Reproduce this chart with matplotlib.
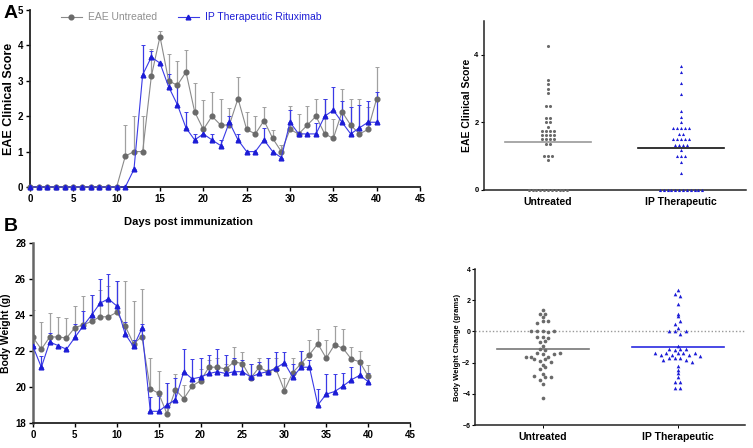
import numpy as np
import matplotlib
matplotlib.use("Agg")
import matplotlib.pyplot as plt
from matplotlib.lines import Line2D

plt.rcParams['font.family'] = ['Liberation Sans', 'DejaVu Sans']

# ---- data ----
days = list(range(0, 41))

# A: clinical score, means and upper error bar ends (nan = no bar)
score_untreated = [0]*11 + [0.875, 1.0, 1.0, 3.125, 4.25, 3.0, 2.875, 3.25, 2.125, 1.625,
                            2.0, 1.75, 1.75, 2.5, 1.625, 1.5, 1.875, 1.375, 1.0, 1.625,
                            1.5, 1.75, 2.0, 1.5, 1.375, 2.125, 1.75, 1.5, 1.625, 2.5]
score_untreated_hi = [np.nan]*11 + [1.75, 2.0, 2.0, 3.9, 4.4, 3.75, 3.57, 3.88, 2.93, 2.45,
                                    2.68, 2.5, 2.23, 3.12, 2.12, 2.0, 2.25, 1.62, 1.2, 2.28,
                                    2.05, 2.28, 2.5, 2.5, 1.93, 2.78, 2.5, 2.5, 2.25, 3.4]
score_ip = [0]*12 + [0.5, 3.17, 3.67, 3.5, 2.83, 2.33, 1.67, 1.33, 1.5, 1.33,
                     1.17, 1.83, 1.33, 1.0, 1.0, 1.33, 1.0, 0.83, 1.83, 1.5,
                     1.5, 1.5, 2.0, 2.17, 1.83, 1.5, 1.67, 1.83, 1.83]
score_ip_hi = [np.nan]*12 + [np.nan, 4.0, 3.83, np.nan, 3.2, 2.9, 2.12, 1.5, 1.6, 1.5,
                             1.33, 2.0, 1.5, np.nan, np.nan, 1.67, np.nan, np.nan, 2.17, 1.5,
                             1.5, 1.8, 2.5, 2.83, 2.43, 2.25, 2.33, 2.43, 2.67]

# B: body weight (g)
weight_untreated = [22.75, 22.1, 22.78, 22.78, 22.72, 23.3, 23.45, 23.65, 23.9, 23.9,
                    24.15, 23.4, 22.4, 22.8, 19.9, 19.65, 18.5, 19.85, 19.35, 20.05,
                    20.35, 21.1, 21.1, 21.0, 21.4, 21.3, 20.5, 21.1, 20.85, 21.0,
                    19.8, 20.8, 21.3, 21.8, 22.4, 21.6, 22.35, 22.15, 21.55, 21.4, 20.6]
weight_untreated_hi = [24.3, 23.6, 24.1, 23.9, 23.85, 24.5, 25.05, 25.1, 25.4, 25.6,
                       25.9, 25.9, 24.8, 25.45, 21.6, 20.9, 20.2, 20.7, 20.1, 20.5,
                       21.0, 21.5, 21.6, 21.3, 22.2, 21.95, 21.3, 21.6, 21.6, 21.6,
                       20.5, 21.6, 22.0, 22.6, 23.2, 22.6, 23.4, 23.2, 22.2, 22.0, 21.2]
weight_ip = [22.25, 21.1, 22.5, 22.3, 22.1, 22.75, 23.4, 24.0, 24.65, 24.9,
             24.5, 22.95, 22.25, 23.25, 18.65, 18.65, 19.0, 19.3, 20.85, 20.45,
             20.55, 20.75, 20.85, 20.75, 20.85, 20.85, 20.55, 20.75, 20.85, 21.05,
             21.35, 20.55, 21.1, 21.1, 19.0, 19.6, 19.75, 20.05, 20.4, 20.65, 20.3]
weight_ip_hi = [22.3, 21.7, 23.0, np.nan, np.nan, 23.5, 24.2, 25.1, 26.0, 26.3,
                25.9, 23.6, 22.6, 23.5, 19.45, 19.5, 20.2, 20.5, 22.1, 21.55,
                21.6, 21.8, 22.1, 21.8, 21.6, 21.5, 21.3, 21.4, 21.6, 21.95,
                21.95, 21.3, 22.0, 21.5, 19.9, 20.7, 20.7, 20.8, 21.1, 21.5, 20.8]

groups = ["Untreated", "IP Therapeutic"]

grey = "#6a6a6a"
grey_line = "#8a8a8a"
grey_err = "#a0a0a0"
blue = "#1c1cd6"
blue_line = "#3a3ae6"


def swarm_x(vals, center, binw, dx):
    vals = np.asarray(vals, dtype=float)
    xs = np.zeros(len(vals))
    keys = np.round(vals / binw).astype(int)
    for k in np.unique(keys):
        idx = np.where(keys == k)[0]
        n = len(idx)
        xs[idx] = center + (np.arange(n) - (n - 1) / 2) * dx
    return xs


def style_axes(ax, lw=1.3, color="#222222"):
    for s in ("top", "right"):
        ax.spines[s].set_visible(False)
    for s in ("left", "bottom"):
        ax.spines[s].set_linewidth(lw)
        ax.spines[s].set_color(color)


def upper_err(mean, hi):
    m = np.asarray(mean, dtype=float)
    h = np.asarray(hi, dtype=float)
    up = h - m
    return [np.zeros_like(up), up]


fig = plt.figure(figsize=(7.53, 4.48), dpi=100)

# ---------- A: clinical score time course ----------
axA = fig.add_axes([0.0398, 0.5826, 0.518, 0.395])
axA.errorbar(days, score_untreated, yerr=upper_err(score_untreated, score_untreated_hi),
             fmt="none", ecolor=grey_err, elinewidth=0.9, capsize=1.5, capthick=0.7, zorder=2)
axA.errorbar(days, score_ip, yerr=upper_err(score_ip, score_ip_hi),
             fmt="none", ecolor=blue_line, elinewidth=0.9, capsize=1.5, capthick=0.7, zorder=2)
axA.plot(days, score_untreated, color=grey_line, lw=0.8, marker="o", ms=3.4,
         mfc=grey, mec=grey, zorder=3, clip_on=False)
axA.plot(days, score_ip, color=blue_line, lw=0.8, marker="^", ms=3.4,
         mfc=blue, mec=blue, zorder=4, clip_on=False)
axA.set_xlim(0, 45)
axA.set_ylim(0, 5)
axA.set_xticks(range(0, 46, 5))
axA.set_yticks(range(0, 6))
axA.set_ylabel("EAE Clinical Score", fontsize=9, fontweight="bold", labelpad=2)
style_axes(axA)
axA.tick_params(labelsize=7, length=3, width=1, pad=2)
for t in axA.get_xticklabels() + axA.get_yticklabels():
    t.set_fontweight("bold")
handles = [Line2D([], [], color=grey_line, lw=0.8, marker="o", ms=3.4, mfc=grey, mec=grey),
           Line2D([], [], color=blue_line, lw=0.8, marker="^", ms=3.4, mfc=blue, mec=blue)]
leg = axA.legend(handles, ["EAE Untreated", "IP Therapeutic Rituximab"], ncol=2,
                 loc="upper left", bbox_to_anchor=(0.055, 1.04), frameon=False,
                 fontsize=7.5, handlelength=2.0, columnspacing=2.0, handletextpad=0.6)
leg.get_texts()[0].set_color("#909090")
leg.get_texts()[1].set_color(blue)

fig.text(188 / 753, 1 - 222 / 448, "Days post immunization", ha="center", va="center",
         fontsize=8, fontweight="bold")
fig.text(4 / 753, 1 - 13 / 448, "A", fontsize=14, fontweight="bold", va="center")
fig.text(4 / 753, 1 - 226 / 448, "B", fontsize=14, fontweight="bold", va="center")

# ---------- B: body weight time course ----------
axB = fig.add_axes([0.0438, 0.0558, 0.5007, 0.4018])
axB.errorbar(days, weight_untreated, yerr=upper_err(weight_untreated, weight_untreated_hi),
             fmt="none", ecolor=grey_err, elinewidth=0.9, capsize=1.5, capthick=0.7, zorder=2)
axB.errorbar(days, weight_ip, yerr=upper_err(weight_ip, weight_ip_hi),
             fmt="none", ecolor=blue_line, elinewidth=0.9, capsize=1.5, capthick=0.7, zorder=2)
axB.plot(days, weight_untreated, color=grey_line, lw=0.8, marker="o", ms=3.4,
         mfc=grey, mec=grey, zorder=3)
axB.plot(days, weight_ip, color=blue_line, lw=0.8, marker="^", ms=3.4,
         mfc=blue, mec=blue, zorder=4)
axB.set_xlim(0, 45)
axB.set_ylim(18, 28)
axB.set_xticks(range(0, 46, 5))
axB.set_yticks(range(18, 29, 2))
axB.set_ylabel("Body Weight (g)", fontsize=7.5, fontweight="bold", labelpad=3)
style_axes(axB)
axB.spines["left"].set_color("#666666")
axB.spines["left"].set_linewidth(1.8)
axB.tick_params(labelsize=7, length=3, width=1, pad=2)
for t in axB.get_xticklabels() + axB.get_yticklabels():
    t.set_fontweight("bold")

# ---------- right top: clinical score dot plot ----------
axC = fig.add_axes([0.643, 0.576, 0.348, 0.377])
score_sets = [np.array(score_untreated), np.array(score_ip)]
for i, (vals, col, mk) in enumerate(zip(score_sets, [grey, blue], ["o", "^"])):
    xs = swarm_x(vals, i, 0.06, 0.029)
    axC.scatter(xs, vals, s=5, marker=mk, color=col, linewidths=0, zorder=3, clip_on=False)
    m = vals.mean()
    axC.plot([i - 0.32, i + 0.32], [m, m], color=("#999999" if i == 0 else "#111111"),
             lw=1.2, zorder=2)
axC.set_xlim(-0.48, 1.49)
axC.set_ylim(0, 5)
axC.set_yticks([0, 2, 4])
axC.set_xticks([0, 1])
axC.set_xticklabels(groups, fontsize=7.5, fontweight="bold")
axC.set_ylabel("EAE Clinical Score", fontsize=7.5, fontweight="bold", labelpad=2)
style_axes(axC, lw=1.1)
axC.tick_params(axis="x", length=0, pad=5)
axC.tick_params(axis="y", labelsize=5.5, length=2, width=0.8, pad=2)
for t in axC.get_yticklabels():
    t.set_fontweight("bold")

# ---------- right bottom: weight change dot plot ----------
axD = fig.add_axes([0.631, 0.0513, 0.3586, 0.348])
change_sets = [np.array(weight_untreated) - weight_untreated[0],
               np.array(weight_ip) - weight_ip[0]]
axD.axhline(0, color="#999999", lw=1.0, ls=(0, (1, 1.5)), zorder=1)
for i, (vals, col, mk) in enumerate(zip(change_sets, [grey, blue], ["o", "^"])):
    xs = swarm_x(vals, i, 0.3, 0.042)
    axD.scatter(xs, vals, s=7, marker=mk, color=col, linewidths=0, zorder=3)
    m = vals.mean()
    axD.plot([i - 0.34, i + 0.34], [m, m], color=("#777777" if i == 0 else "#2a2ae0"),
             lw=1.2, zorder=2)
axD.set_xlim(-0.5, 1.5)
axD.set_ylim(-6, 4)
axD.set_yticks([-6, -4, -2, 0, 2, 4])
axD.set_xticks([0, 1])
axD.set_xticklabels(groups, fontsize=7.5, fontweight="bold")
axD.set_ylabel("Body Weight Change (grams)", fontsize=5.5, fontweight="bold", labelpad=1)
style_axes(axD, lw=1.1)
axD.tick_params(axis="x", length=2, width=0.7, pad=3)
axD.tick_params(axis="y", labelsize=5, length=2, width=0.8, pad=1.5)
for t in axD.get_yticklabels():
    t.set_fontweight("bold")

fig.savefig("out.png", dpi=100)
